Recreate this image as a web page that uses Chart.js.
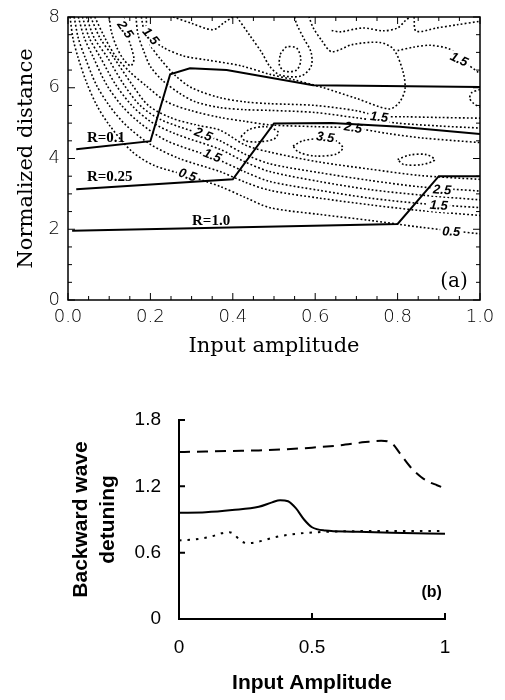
<!DOCTYPE html>
<html>
<head>
<meta charset="utf-8">
<script src="https://cdn.jsdelivr.net/npm/chart.js@4.4.1/dist/chart.umd.min.js"></script>
<style>
  html, body { margin: 0; padding: 0; background: #fff; }
  #wrap { position: relative; width: 505px; height: 700px; }
  #chartA { position: absolute; left: 0; top: 0; }
  #chartB { position: absolute; left: 0; top: 380px; }
</style>
</head>
<body>
<div id="wrap">
  <canvas id="chartA" width="505" height="370"></canvas>
  <canvas id="chartB" width="505" height="320"></canvas>
</div>
<script>
// ---- panel (a): operating paths for three reflectivities ----
const pathR01 = [[0.02, 4.26], [0.2, 4.49], [0.248, 6.38], [0.296, 6.55], [0.385, 6.5], [0.595, 6.07], [1.0, 6.02]];
const pathR025 = [[0.02, 3.13], [0.4, 3.41], [0.5, 4.99], [0.64, 5.0], [0.806, 4.9], [1.0, 4.69]];
const pathR10 = [[0.01, 1.96], [0.8, 2.15], [0.9, 3.5], [1.0, 3.5]];

// contour lines of the field (levels below the ridge)
const contour05 = [[0.005, 8], [0.012, 7.4], [0.024, 6.87], [0.045, 6.15], [0.07, 5.5], [0.1, 4.95], [0.155, 4.2], [0.21, 3.8], [0.29, 3.52], [0.369, 3.21], [0.43, 2.9], [0.49, 2.61], [0.61, 2.42], [0.733, 2.25], [0.854, 2.06], [1.0, 1.87]];
const contour10 = [[0.015, 8], [0.025, 7.4], [0.041, 6.87], [0.068, 6.1], [0.1, 5.5], [0.14, 4.95], [0.2, 4.4], [0.27, 4.0], [0.369, 3.63], [0.43, 3.33], [0.49, 3.1], [0.61, 2.88], [0.733, 2.69], [0.854, 2.53], [1.0, 2.39]];
const contour15 = [[0.025, 8], [0.04, 7.4], [0.061, 6.87], [0.093, 6.1], [0.13, 5.5], [0.175, 5.0], [0.24, 4.5], [0.35, 4.04], [0.43, 3.62], [0.49, 3.35], [0.61, 3.1], [0.733, 2.88], [0.854, 2.73], [1.0, 2.61]];
const contour20 = [[0.035, 8], [0.052, 7.4], [0.078, 6.87], [0.115, 6.1], [0.155, 5.5], [0.2, 5.05], [0.26, 4.7], [0.369, 4.26], [0.43, 3.9], [0.49, 3.63], [0.61, 3.35], [0.733, 3.12], [0.854, 2.97], [1.0, 2.83]];
const contour25 = [[0.045, 8], [0.064, 7.4], [0.095, 6.87], [0.135, 6.1], [0.175, 5.5], [0.225, 5.1], [0.328, 4.67], [0.369, 4.5], [0.43, 4.12], [0.49, 3.85], [0.61, 3.6], [0.733, 3.38], [0.854, 3.2], [1.0, 3.08]];
const contour30 = [[0.055, 8], [0.078, 7.4], [0.11, 6.87], [0.155, 6.1], [0.195, 5.5], [0.25, 5.15], [0.31, 4.95], [0.369, 4.8], [0.43, 4.38], [0.49, 4.18], [0.61, 3.9], [0.733, 3.7], [0.854, 3.52], [1.0, 3.41]];

// contour lines above the ridge
const upper1 = [[0.065, 8], [0.09, 7.4], [0.115, 6.9], [0.15, 6.45], [0.19, 6.05], [0.24, 5.6], [0.3, 5.35], [0.369, 5.16], [0.43, 5.05], [0.49, 4.95], [0.6, 4.9], [0.692, 4.86], [0.78, 4.7], [0.86, 4.58], [1.0, 4.45]];
const upper2 = [[0.165, 8], [0.17, 7.5], [0.185, 7.0], [0.2, 6.6], [0.23, 6.2], [0.27, 5.85], [0.31, 5.6], [0.369, 5.44], [0.43, 5.38], [0.49, 5.36], [0.6, 5.3], [0.7, 5.15], [0.8, 5.0], [0.9, 4.92], [1.0, 4.86]];
const upper3 = [[0.178, 8], [0.185, 7.6], [0.2, 7.2], [0.225, 6.8], [0.26, 6.35], [0.3, 6.0], [0.369, 5.72], [0.43, 5.6], [0.49, 5.55], [0.6, 5.5], [0.7, 5.35], [0.755, 5.2], [0.82, 5.18], [0.9, 5.16], [1.0, 5.14]];
const upper4 = [[0.19, 8], [0.194, 7.5], [0.23, 7.15], [0.28, 6.9], [0.34, 6.78], [0.42, 6.62], [0.49, 6.38], [0.55, 6.22], [0.62, 6.0], [0.7, 5.7], [0.78, 5.4], [0.805, 5.6], [0.818, 5.96], [0.813, 6.46], [0.79, 7.09], [0.757, 7.28], [0.69, 7.22], [0.64, 7.02], [0.615, 7.35], [0.595, 7.7], [0.585, 8]];
const upper5 = [[0.41, 8], [0.44, 7.5], [0.47, 7.0], [0.49, 6.6], [0.515, 6.36], [0.565, 6.33], [0.59, 6.6], [0.59, 7.0], [0.572, 7.4], [0.555, 7.8], [0.55, 8]];
const topLine1 = [[0.255, 8], [0.3, 7.82], [0.352, 7.64], [0.38, 7.85], [0.4, 8]];
const topLine2 = [[0.64, 7.62], [0.66, 7.58], [0.716, 7.69], [0.765, 7.61], [0.8, 7.69], [0.82, 7.91], [0.83, 8]];
const topLine3 = [[0.8, 7.05], [0.84, 7.15], [0.88, 7.2], [0.927, 7.09], [0.949, 6.85], [1.0, 6.4]];
const topLine4 = [[0.84, 8], [0.845, 7.6], [0.895, 7.69], [0.944, 7.78], [1.0, 7.88]];

// closed islands
const islandA = [[0.546, 4.35], [0.57, 4.5], [0.61, 4.56], [0.65, 4.5], [0.667, 4.3], [0.65, 4.12], [0.6, 4.07], [0.56, 4.18], [0.546, 4.35]];
const islandB = [[0.42, 4.62], [0.44, 4.82], [0.48, 4.9], [0.51, 4.75], [0.5, 4.55], [0.46, 4.47], [0.43, 4.5], [0.42, 4.62]];
const islandC = [[0.8, 3.97], [0.83, 4.1], [0.87, 4.11], [0.89, 3.96], [0.86, 3.83], [0.815, 3.83], [0.8, 3.97]];
const islandD = [[1.0, 5.95], [0.98, 5.86], [0.975, 5.7], [0.985, 5.55], [1.0, 5.45]];
const islandE = [[0.515, 6.95], [0.53, 7.15], [0.555, 7.12], [0.565, 6.8], [0.555, 6.5], [0.525, 6.47], [0.513, 6.65], [0.515, 6.95]];
const islandF = [[0.1, 8], [0.105, 7.6], [0.118, 7.15], [0.135, 6.8], [0.152, 6.62], [0.16, 6.8], [0.152, 7.2], [0.14, 7.6], [0.135, 8]];

const contourTags = [
  { text: '2.5', x: 0.138, y: 7.64, angle: 55 },
  { text: '1.5', x: 0.2, y: 7.45, angle: 50 },
  { text: '1.5', x: 0.949, y: 6.79, angle: 25 },
  { text: '1.5', x: 0.755, y: 5.16, angle: 6 },
  { text: '2.5', x: 0.692, y: 4.86, angle: 10 },
  { text: '3.5', x: 0.624, y: 4.59, angle: 8 },
  { text: '2.5', x: 0.328, y: 4.67, angle: 22 },
  { text: '1.5', x: 0.35, y: 4.07, angle: 22 },
  { text: '0.5', x: 0.29, y: 3.52, angle: 18 },
  { text: '2.5', x: 0.908, y: 3.1, angle: 4 },
  { text: '1.5', x: 0.9, y: 2.66, angle: 4 },
  { text: '0.5', x: 0.93, y: 1.92, angle: 3 }
];
const pathTags = [
  { text: 'R=0.1', x: 0.046, y: 4.59 },
  { text: 'R=0.25', x: 0.046, y: 3.46 },
  { text: 'R=1.0', x: 0.301, y: 2.22 }
];

// ---- panel (b): backward wave detuning ----
const dashedAmp = [0, 0.1, 0.2, 0.3, 0.4, 0.5, 0.6, 0.7, 0.76, 0.8, 0.83, 0.87, 0.91, 0.94, 0.97, 1.0];
const dashedDet = [1.51, 1.515, 1.52, 1.525, 1.535, 1.55, 1.57, 1.6, 1.612, 1.59, 1.5, 1.375, 1.285, 1.24, 1.21, 1.18];
const solidAmp = [0, 0.1, 0.2, 0.3, 0.35, 0.38, 0.41, 0.44, 0.47, 0.5, 0.55, 0.65, 0.8, 1.0];
const solidDet = [0.96, 0.965, 0.985, 1.015, 1.055, 1.075, 1.065, 1.0, 0.9, 0.83, 0.8, 0.79, 0.78, 0.77];
const dottedAmp = [0, 0.06, 0.12, 0.16, 0.19, 0.21, 0.23, 0.26, 0.3, 0.36, 0.44, 0.52, 0.7, 1.0];
const dottedDet = [0.71, 0.72, 0.745, 0.775, 0.785, 0.76, 0.71, 0.685, 0.7, 0.74, 0.77, 0.785, 0.795, 0.795];

const toPoints = (pairs) => pairs.map(([x, y]) => ({ x, y }));
const zipPoints = (xs, ys) => xs.map((x, i) => ({ x, y: ys[i] }));

Chart.defaults.color = '#000';
Chart.defaults.animation = false;

const solidPath = (pairs) => ({
  data: toPoints(pairs), showLine: true, pointRadius: 0,
  borderColor: '#000', borderWidth: 2, tension: 0
});
const dottedPath = (pairs) => ({
  data: toPoints(pairs), showLine: true, pointRadius: 0,
  borderColor: '#000', borderWidth: 1.6, borderDash: [1.8, 2.2], tension: 0.3
});

const contours = [contour05, contour10, contour15, contour20, contour25, contour30,
  upper1, upper2, upper3, upper4, upper5, topLine1, topLine2, topLine3, topLine4,
  islandA, islandB, islandC, islandD, islandE, islandF];

// the three solid paths come first so they are painted last (on top)
const datasetsA = [solidPath(pathR01), solidPath(pathR025), solidPath(pathR10)]
  .concat(contours.map(dottedPath));

const frameA = {
  id: 'frameA',
  afterDatasetDraw(chart, args) {
    // contour labels go on after the dotted lines, before the solid paths
    if (args.index !== 3) return;
    const { ctx, scales: { x, y } } = chart;
    ctx.save();
    ctx.font = 'italic bold 13px "Liberation Sans"';
    ctx.textAlign = 'center';
    ctx.textBaseline = 'middle';
    contourTags.forEach(t => {
      const w = ctx.measureText(t.text).width;
      ctx.save();
      ctx.translate(x.getPixelForValue(t.x), y.getPixelForValue(t.y));
      ctx.rotate(t.angle * Math.PI / 180);
      ctx.fillStyle = '#fff';
      ctx.fillRect(-w / 2 - 2, -6, w + 4, 12);
      ctx.fillStyle = '#000';
      ctx.fillText(t.text, 0, 0);
      ctx.restore();
    });
    ctx.restore();
  },
  afterDraw(chart) {
    const { ctx, chartArea: a, scales: { x, y } } = chart;
    ctx.save();
    ctx.strokeStyle = '#000';
    ctx.lineWidth = 1.5;
    ctx.strokeRect(a.left, a.top, a.right - a.left, a.bottom - a.top);
    ctx.lineWidth = 1;
    ctx.beginPath();
    for (let i = 0; i <= 20; i++) {
      const px = x.getPixelForValue(i * 0.05);
      const len = i % 4 === 0 ? 7 : 4;
      ctx.moveTo(px, a.bottom); ctx.lineTo(px, a.bottom - len);
      ctx.moveTo(px, a.top); ctx.lineTo(px, a.top + len);
    }
    for (let i = 0; i <= 16; i++) {
      const py = y.getPixelForValue(i * 0.5);
      const len = i % 4 === 0 ? 7 : 4;
      ctx.moveTo(a.left, py); ctx.lineTo(a.left + len, py);
      ctx.moveTo(a.right, py); ctx.lineTo(a.right - len, py);
    }
    ctx.stroke();

    ctx.fillStyle = '#000';
    ctx.font = 'bold 15px "Liberation Serif"';
    ctx.textAlign = 'left';
    ctx.textBaseline = 'middle';
    pathTags.forEach(t => ctx.fillText(t.text, x.getPixelForValue(t.x), y.getPixelForValue(t.y)));

    ctx.font = '20px "DejaVu Serif"';
    ctx.textAlign = 'center';
    ctx.fillText('(a)', x.getPixelForValue(0.937), y.getPixelForValue(0.52));
    ctx.restore();
  }
};

new Chart(document.getElementById('chartA'), {
  type: 'scatter',
  data: { datasets: datasetsA },
  options: {
    responsive: false,
    devicePixelRatio: 1,
    layout: { padding: { top: 9, right: 25, left: 0, bottom: 0 } },
    plugins: { legend: { display: false }, tooltip: { enabled: false } },
    scales: {
      x: {
        type: 'linear', min: 0, max: 1,
        grid: { display: false, drawTicks: false },
        border: { display: false },
        ticks: {
          stepSize: 0.2, maxRotation: 0, autoSkip: false, padding: 7,
          font: { family: 'DejaVu Sans', size: 18, weight: 300 },
          callback: v => v.toFixed(1)
        },
        title: {
          display: true, text: 'Input amplitude',
          font: { family: 'DejaVu Serif', size: 21 },
          padding: { top: 0, bottom: 11 }
        },
        afterFit: s => { s.height = 70; }
      },
      y: {
        type: 'linear', min: 0, max: 8,
        grid: { display: false, drawTicks: false },
        border: { display: false },
        ticks: {
          stepSize: 2, padding: 8,
          font: { family: 'DejaVu Sans', size: 18, weight: 300, lineHeight: 1 },
          callback: v => String(v)
        },
        title: {
          display: true, text: 'Normalized distance',
          font: { family: 'DejaVu Serif', size: 21 },
          padding: { top: 14, bottom: 0 }
        },
        afterFit: s => { s.width = 68; }
      }
    }
  },
  plugins: [frameA]
});

const frameB = {
  id: 'frameB',
  afterDraw(chart) {
    const { ctx, chartArea: a, scales: { x, y } } = chart;
    ctx.save();
    ctx.strokeStyle = '#000';
    ctx.lineWidth = 2;
    ctx.beginPath();
    [0.6, 1.2, 1.8].forEach(v => {
      const py = y.getPixelForValue(v);
      ctx.moveTo(a.left, py); ctx.lineTo(a.left + 6, py);
    });
    [0.5, 1].forEach(v => {
      const px = x.getPixelForValue(v);
      ctx.moveTo(px, a.bottom); ctx.lineTo(px, a.bottom - 6);
    });
    ctx.stroke();
    ctx.fillStyle = '#000';
    ctx.font = 'bold 16px "Liberation Sans"';
    ctx.textAlign = 'center';
    ctx.textBaseline = 'middle';
    ctx.fillText('(b)', x.getPixelForValue(0.95), y.getPixelForValue(0.235));
    ctx.restore();
  }
};

const curveB = (xs, ys, dash) => ({
  data: zipPoints(xs, ys), showLine: true, pointRadius: 0,
  borderColor: '#000', borderWidth: 2, borderDash: dash,
  cubicInterpolationMode: 'monotone'
});

new Chart(document.getElementById('chartB'), {
  type: 'scatter',
  data: {
    datasets: [
      curveB(solidAmp, solidDet, []),
      curveB(dashedAmp, dashedDet, [11, 7]),
      curveB(dottedAmp, dottedDet, [2.5, 6])
    ]
  },
  options: {
    responsive: false,
    devicePixelRatio: 1,
    layout: { padding: { top: 40, right: 60, left: 0, bottom: 0 } },
    plugins: { legend: { display: false }, tooltip: { enabled: false } },
    scales: {
      x: {
        type: 'linear', min: 0, max: 1,
        grid: { display: false, drawTicks: false },
        border: { display: true, color: '#000', width: 2 },
        ticks: {
          stepSize: 0.5, maxRotation: 0, autoSkip: false, padding: 17,
          font: { family: 'Liberation Sans', size: 19 },
          callback: v => String(v)
        },
        title: {
          display: true, text: 'Input Amplitude',
          font: { family: 'Liberation Sans', size: 21, weight: 'bold' },
          padding: { top: 0, bottom: 4 }
        },
        afterFit: s => { s.height = 81; }
      },
      y: {
        type: 'linear', min: 0, max: 1.8,
        grid: { display: false, drawTicks: false },
        border: { display: true, color: '#000', width: 2 },
        ticks: {
          stepSize: 0.6, padding: 18,
          font: { family: 'Liberation Sans', size: 19, lineHeight: 1 },
          callback: v => (v === 0 ? '0' : v.toFixed(1))
        },
        title: {
          display: true, text: ['Backward wave', 'detuning'],
          font: { family: 'Liberation Sans', size: 21, weight: 'bold', lineHeight: 1.29 },
          padding: { top: 68, bottom: 0 }
        },
        afterFit: s => { s.width = 179; }
      }
    }
  },
  plugins: [frameB]
});
</script>
</body>
</html>
